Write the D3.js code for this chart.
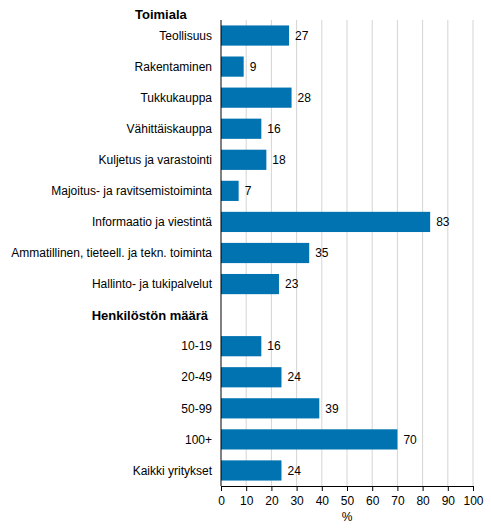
<!DOCTYPE html>
<html>
<head>
<meta charset="utf-8">
<script src="https://cdn.jsdelivr.net/npm/d3@7"></script>
<style>
  body { margin: 0; background: #fff; }
  text { font-family: "Liberation Sans", Arial, sans-serif; fill: #000; }
</style>
</head>
<body>
<svg id="chart"></svg>
<script>
const categories = [
  "Teollisuus", "Rakentaminen", "Tukkukauppa", "Vähittäiskauppa",
  "Kuljetus ja varastointi", "Majoitus- ja ravitsemistoiminta",
  "Informaatio ja viestintä", "Ammatillinen, tieteell. ja tekn. toiminta",
  "Hallinto- ja tukipalvelut", "Henkilöstön määrä",
  "10-19", "20-49", "50-99", "100+", "Kaikki yritykset"
];
const values = [27, 9, 28, 16, 18, 7, 83, 35, 23, null, 16, 24, 39, 70, 24];
const headers = ["Henkilöstön määrä"];
const ticks = [0, 10, 20, 30, 40, 50, 60, 70, 80, 90, 100];

const width = 491, height = 529;
const margin = { top: 20, right: 18, bottom: 43, left: 221 };
const w = width - margin.left - margin.right,
      h = height - margin.top - margin.bottom;

const svg = d3.select("#chart")
  .attr("width", width)
  .attr("height", height);

const g = svg.append("g")
  .attr("transform", `translate(${margin.left},${margin.top})`);

const x = d3.scaleLinear().domain([0, 100]).range([0, w]);
const y = d3.scaleBand().domain(categories).range([0, h]).paddingInner(0.35).paddingOuter(0.175);

// gridlines
g.selectAll(".grid")
  .data(ticks.slice(1))
  .join("line")
  .attr("x1", d => x(d)).attr("x2", d => x(d))
  .attr("y1", 0).attr("y2", h)
  .attr("stroke", "#d4d4d4")
  .attr("stroke-width", 1);

const data = categories.map((c, i) => ({ c, v: values[i] })).filter(d => d.v != null);

g.selectAll(".bar")
  .data(data)
  .join("rect")
  .attr("x", 0)
  .attr("y", d => y(d.c))
  .attr("width", d => x(d.v))
  .attr("height", y.bandwidth())
  .attr("fill", "#0073b0");

g.selectAll(".val")
  .data(data)
  .join("text")
  .attr("x", d => x(d.v) + 6)
  .attr("y", d => y(d.c) + y.bandwidth() / 2)
  .attr("dy", "0.35em")
  .attr("font-size", "12px")
  .text(d => d.v);

// category labels
g.selectAll(".cat")
  .data(categories)
  .join("text")
  .attr("x", d => headers.includes(d) ? -13 : -9)
  .attr("y", d => y(d) + y.bandwidth() / 2)
  .attr("dy", "0.35em")
  .attr("text-anchor", "end")
  .attr("font-size", d => headers.includes(d) ? "13px" : "12px")
  .attr("font-weight", d => headers.includes(d) ? "bold" : "normal")
  .text(d => d);

svg.append("text")
  .attr("x", 135)
  .attr("y", 14)
  .attr("dy", "0.35em")
  .attr("font-size", "13px")
  .attr("font-weight", "bold")
  .text("Toimiala");

// axes
const xAxis = g.append("g")
  .attr("transform", `translate(0,${h})`)
  .call(d3.axisBottom(x).tickValues(ticks).tickSize(5).tickSizeOuter(0));
xAxis.select(".domain").attr("stroke", "#000");
xAxis.selectAll(".tick line").attr("stroke", "#000");
xAxis.selectAll(".tick text")
  .attr("font-size", "12px")
  .attr("font-family", "'Liberation Sans', Arial, sans-serif")
  .attr("dy", "0.9em");

g.append("line")
  .attr("x1", 0).attr("x2", 0)
  .attr("y1", 0).attr("y2", h)
  .attr("stroke", "#000");

g.append("text")
  .attr("x", w / 2)
  .attr("y", h + 35)
  .attr("text-anchor", "middle")
  .attr("font-size", "12px")
  .text("%");
</script>
</body>
</html>
